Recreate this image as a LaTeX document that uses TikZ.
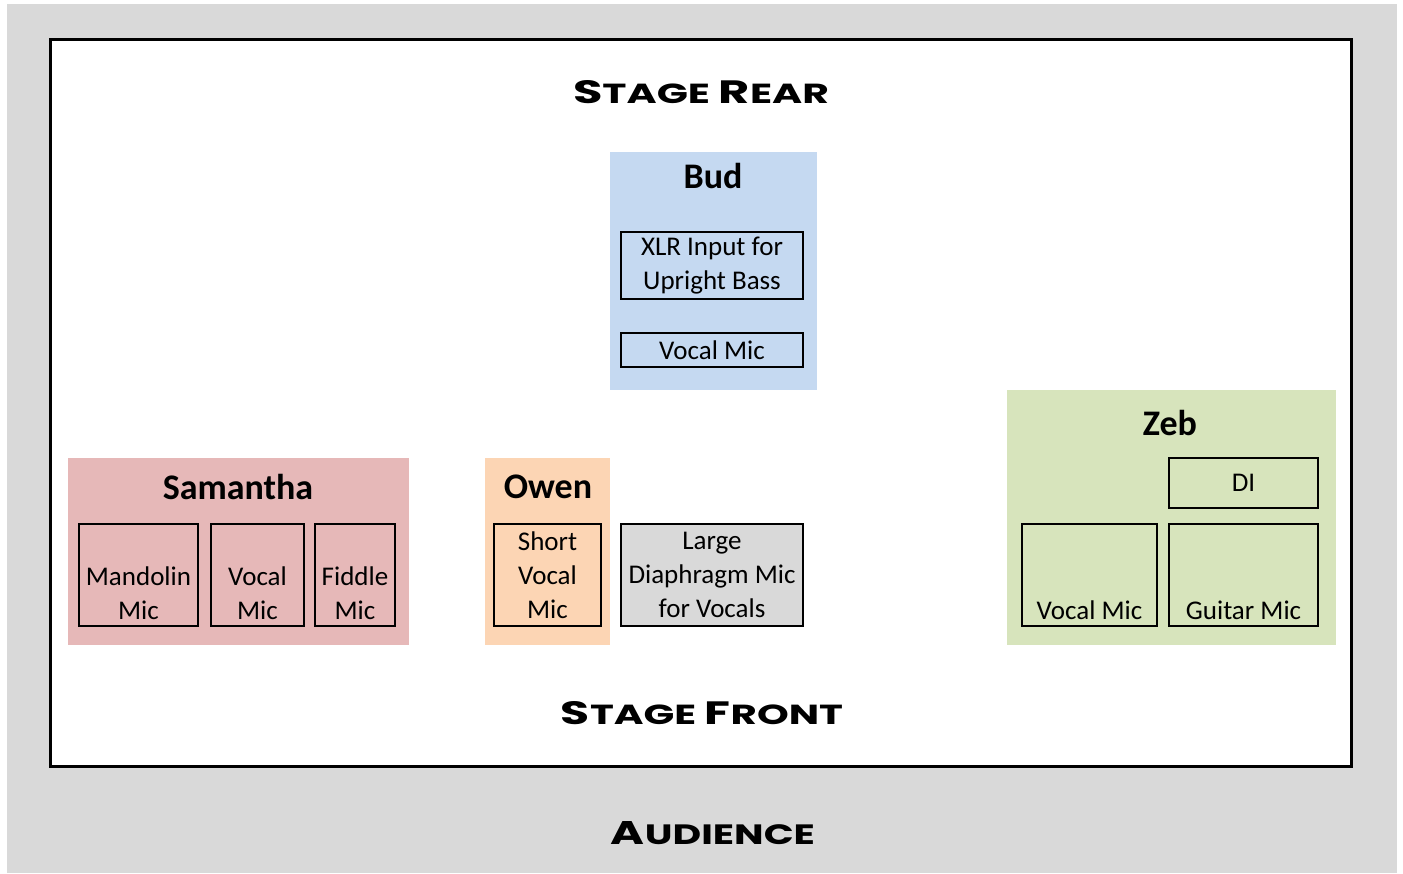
\documentclass[tikz,border=0pt]{standalone}
\usepackage{fontspec}
\usepackage{graphicx}
\setmainfont{Carlito}
\newfontfamily\platefont{Poppins}

\definecolor{audiencegray}{HTML}{D9D9D9}
\definecolor{budblue}{HTML}{C5D9F1}
\definecolor{samred}{HTML}{E6B8B8}
\definecolor{owenorange}{HTML}{FCD5B4}
\definecolor{zebgreen}{HTML}{D7E4BC}

% fake small caps for the stage headings
\newcommand\platecaps[2]{{\fontsize{24}{24}\selectfont #1}{\fontsize{20.5}{20.5}\selectfont #2}}
\newcommand\plateheading[2]{\resizebox{#1}{23pt}{\platefont\bfseries\fontsize{20.5}{20.5}\selectfont #2}}

\tikzset{
  stage/.style={draw=black, line width=3pt, fill=white},
  area/.style={inner sep=0pt, outer sep=0pt},
  micbox/.style={draw=black, line width=2pt, inner sep=0pt, align=center,
    font=\fontsize{27}{34}\selectfont},
  miclabel/.style={inner sep=0pt, align=center, font=\fontsize{27}{34}\selectfont},
  player/.style={inner sep=0pt, font=\fontsize{36}{40}\selectfont\bfseries},
  heading/.style={inner sep=0pt},
}

\begin{document}
\begin{tikzpicture}[x=1pt, y=-1pt]
    \useasboundingbox (0,0) rectangle (1403,873);

    \fill[audiencegray] (7,4) rectangle (1397,873);
    \draw[stage] (50,39) rectangle (1351,766);

    \node[heading] (rear) at (701,92) {\plateheading{256pt}{\platecaps{S}{TAGE} \platecaps{R}{EAR}}};
    \node[heading] (front) at (702,713) {\plateheading{282pt}{\platecaps{S}{TAGE} \platecaps{F}{RONT}}};
    \node[heading] (audience) at (713,833) {\plateheading{204pt}{\platecaps{A}{UDIENCE}}};

    % Bud
    \node[area, fill=budblue, minimum width=207pt, minimum height=238pt] (bud) at (713.5,271) {};
    \node[player] (budname) at (713,176) {Bud};
    \node[micbox, minimum width=182pt, minimum height=67pt] (xlr) at (712,265.5) {XLR Input for\\Upright Bass};
    \node[micbox, minimum width=182pt, minimum height=34pt] (budvocal) at (712,350) {Vocal Mic};

    % Samantha
    \node[area, fill=samred, minimum width=341pt, minimum height=187pt] (samantha) at (238.5,551.5) {};
    \node[player] (samname) at (238,487) {Samantha};
    \node[micbox, minimum width=119pt, minimum height=102pt] (mandobox) at (138.5,575) {};
    \node[micbox, minimum width=93pt, minimum height=102pt] (samvocalbox) at (257.5,575) {};
    \node[micbox, minimum width=80pt, minimum height=102pt] (fiddlebox) at (355,575) {};
    \node[miclabel] (mando) at (138.5,593) {Mandolin\\Mic};
    \node[miclabel] (samvocal) at (257.5,593) {Vocal\\Mic};
    \node[miclabel] (fiddle) at (355,593) {Fiddle\\Mic};

    % Owen
    \node[area, fill=owenorange, minimum width=125pt, minimum height=187pt] (owen) at (547.5,551.5) {};
    \node[player] (owenname) at (548,487) {Owen};
    \node[micbox, minimum width=107pt, minimum height=102pt] (short) at (547.5,575) {Short\\Vocal\\Mic};
    \node[micbox, fill=audiencegray, minimum width=182pt, minimum height=102pt] (large) at (712,575) {Large\\Diaphragm Mic\\for Vocals};

    % Zeb
    \node[area, fill=zebgreen, minimum width=329pt, minimum height=255pt] (zeb) at (1171.5,517.5) {};
    \node[player] (zebname) at (1170,423) {Zeb};
    \node[micbox, minimum width=149pt, minimum height=50pt] (di) at (1243.5,483) {DI};
    \node[micbox, minimum width=135pt, minimum height=102pt] (zebvocalbox) at (1089.5,575) {};
    \node[micbox, minimum width=149pt, minimum height=102pt] (guitarbox) at (1243.5,575) {};
    \node[miclabel] (zebvocal) at (1089.5,610) {Vocal Mic};
    \node[miclabel] (guitar) at (1243.5,610) {Guitar Mic};
\end{tikzpicture}
\end{document}
